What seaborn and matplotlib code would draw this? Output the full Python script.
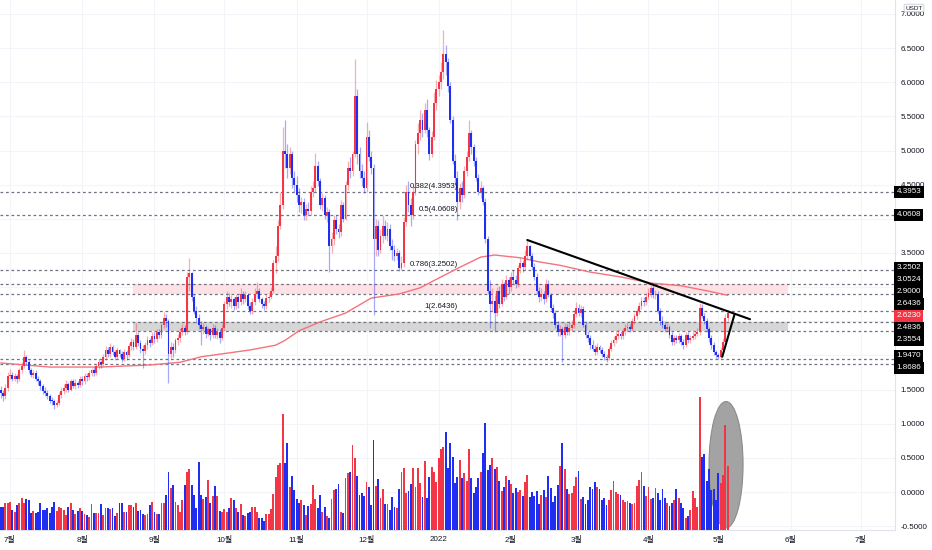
import matplotlib
matplotlib.use('Agg')
import matplotlib.pyplot as plt
import matplotlib.dates as mdates
import matplotlib.transforms as mtransforms
from matplotlib.patches import Ellipse
import numpy as np
import pandas as pd
import seaborn as sns

UP = '#f23645'
DOWN = '#1f2ef0'
TXT = '#131722'

# daily candles from 2021-06-27, open = previous close
first_open = 1.50
close_jun = [1.45, 1.40, 1.52, 1.70]
high_jun = [1.55, 1.50, 1.58, 1.76]
low_jun = [1.38, 1.33, 1.36, 1.48]

close_jul = [1.72, 1.66, 1.70, 1.65, 1.78, 1.85, 1.98, 1.90, 1.78, 1.72, 1.74, 1.66, 1.62, 1.55, 1.48, 1.45,
             1.40, 1.34, 1.33, 1.27, 1.30, 1.42, 1.48, 1.52, 1.58, 1.50, 1.62, 1.55, 1.60, 1.56, 1.66]
high_jul = [1.80, 1.76, 1.74, 1.73, 1.82, 1.90, 2.08, 2.00, 1.94, 1.82, 1.79, 1.78, 1.70, 1.66, 1.58, 1.54,
            1.50, 1.44, 1.39, 1.36, 1.35, 1.46, 1.54, 1.58, 1.64, 1.61, 1.66, 1.66, 1.65, 1.63, 1.70]
low_jul = [1.66, 1.62, 1.63, 1.60, 1.62, 1.74, 1.82, 1.86, 1.74, 1.68, 1.67, 1.62, 1.57, 1.50, 1.44, 1.40,
           1.36, 1.30, 1.28, 1.22, 1.24, 1.28, 1.38, 1.44, 1.47, 1.46, 1.48, 1.52, 1.51, 1.52, 1.54]

close_aug = [1.62, 1.70, 1.68, 1.74, 1.78, 1.75, 1.84, 1.90, 1.87, 1.98, 2.08, 2.02, 2.12, 2.05, 1.98, 2.08,
             2.02, 1.95, 2.05, 2.00, 2.14, 2.20, 2.12, 2.30, 2.18, 2.10, 2.06, 2.15, 2.22, 2.18, 2.28]
high_aug = [1.70, 1.74, 1.75, 1.78, 1.82, 1.83, 1.88, 1.95, 1.93, 2.02, 2.14, 2.12, 2.18, 2.16, 2.08, 2.12,
            2.10, 2.06, 2.10, 2.08, 2.18, 2.26, 2.24, 2.48, 2.34, 2.22, 2.16, 2.20, 2.28, 2.26, 2.34]
low_aug = [1.56, 1.58, 1.63, 1.64, 1.70, 1.70, 1.72, 1.80, 1.82, 1.84, 1.94, 1.98, 1.98, 2.00, 1.94, 1.95,
           1.98, 1.90, 1.92, 1.94, 1.97, 2.08, 2.08, 2.10, 2.14, 2.04, 1.82, 2.02, 2.10, 2.12, 2.15]

close_sep = [2.24, 2.35, 2.30, 2.45, 2.55, 2.50, 2.02, 2.12, 2.08, 2.22, 2.25, 2.35, 2.40, 2.35, 3.15, 3.20,
             2.85, 2.65, 2.55, 2.45, 2.38, 2.42, 2.32, 2.38, 2.30, 2.40, 2.30, 2.35, 2.25, 2.40]
high_sep = [2.34, 2.38, 2.38, 2.48, 2.63, 2.60, 2.54, 2.20, 2.18, 2.26, 2.32, 2.40, 2.46, 2.44, 3.22, 3.43,
            3.22, 2.90, 2.72, 2.60, 2.50, 2.48, 2.45, 2.42, 2.40, 2.46, 2.44, 2.40, 2.38, 2.46]
low_sep = [2.18, 2.20, 2.26, 2.26, 2.40, 2.42, 1.60, 1.96, 1.98, 2.04, 2.16, 2.20, 2.30, 2.30, 2.32, 2.95,
           2.80, 2.60, 2.48, 2.38, 2.15, 2.32, 2.26, 2.28, 2.22, 2.26, 2.26, 2.24, 2.18, 2.22]

close_oct = [2.75, 2.85, 2.78, 2.82, 2.72, 2.85, 2.78, 2.90, 2.82, 2.88, 2.72, 2.65, 2.78, 2.90, 2.94, 2.82,
             2.76, 2.72, 2.84, 2.86, 2.95, 3.35, 3.45, 3.90, 4.20, 5.00, 4.95, 4.75, 4.95, 4.60, 4.50]
high_oct = [2.80, 2.95, 2.92, 2.88, 2.86, 2.90, 2.88, 2.98, 2.94, 2.95, 2.92, 2.78, 2.84, 2.98, 3.08, 2.98,
            2.86, 2.80, 2.90, 2.92, 3.00, 3.40, 3.60, 3.98, 4.40, 5.35, 5.45, 5.10, 5.05, 5.00, 4.70]
low_oct = [2.36, 2.68, 2.72, 2.70, 2.66, 2.68, 2.70, 2.74, 2.76, 2.78, 2.68, 2.60, 2.60, 2.74, 2.84, 2.78,
           2.70, 2.66, 2.68, 2.78, 2.82, 2.92, 3.20, 3.38, 3.85, 4.15, 4.75, 4.60, 4.65, 4.45, 4.40]

close_nov = [4.35, 4.20, 4.25, 4.05, 4.15, 4.12, 4.40, 4.45, 4.78, 4.55, 4.20, 4.30, 4.05, 4.10, 3.60, 3.70,
             3.98, 3.85, 3.80, 4.20, 4.00, 4.50, 4.75, 4.70, 4.95, 5.80, 4.95, 4.70, 4.60, 4.45]
high_nov = [4.62, 4.45, 4.32, 4.30, 4.22, 4.25, 4.48, 4.55, 4.96, 4.85, 4.60, 4.38, 4.35, 4.18, 4.15, 3.80,
            4.05, 4.05, 3.92, 4.28, 4.25, 4.55, 4.85, 4.90, 5.00, 6.34, 5.90, 5.05, 4.80, 4.70]
low_nov = [4.25, 4.10, 4.08, 3.98, 3.98, 4.05, 4.05, 4.32, 4.40, 4.48, 4.15, 4.12, 4.00, 3.95, 3.22, 3.50,
           3.62, 3.78, 3.72, 3.75, 3.95, 3.98, 4.42, 4.60, 4.62, 4.90, 4.80, 4.60, 4.48, 4.38]

close_dec = [5.20, 4.90, 4.75, 3.70, 3.90, 3.55, 3.75, 3.90, 3.75, 3.85, 3.60, 3.55, 3.45, 3.50, 3.28, 3.35,
             3.95, 4.40, 4.20, 4.05, 4.40, 5.10, 5.25, 5.45, 5.30, 5.60, 5.30, 4.95, 5.20, 5.70, 5.90]
high_dec = [5.42, 5.30, 5.00, 4.80, 4.00, 3.98, 3.85, 4.05, 3.98, 3.95, 3.92, 3.70, 3.62, 3.58, 3.55, 3.45,
            4.02, 4.50, 4.55, 4.30, 4.48, 5.15, 5.40, 5.60, 5.55, 5.70, 5.75, 5.35, 5.28, 5.85, 6.03]
low_dec = [4.40, 4.85, 4.65, 2.59, 3.45, 3.45, 3.50, 3.65, 3.70, 3.68, 3.55, 3.40, 3.38, 3.40, 3.24, 3.25,
           3.30, 3.90, 4.10, 3.90, 4.00, 4.35, 4.95, 5.15, 5.20, 5.25, 5.20, 4.86, 4.90, 5.15, 5.60]

close_jan = [6.00, 6.15, 6.42, 6.30, 5.95, 5.45, 4.85, 4.60, 4.25, 4.45, 4.35, 4.70, 4.90, 5.25, 5.05, 4.85,
             4.60, 4.40, 4.45, 4.25, 3.70, 2.95, 2.75, 2.80, 2.62, 2.95, 2.75, 3.05, 2.85, 3.10, 3.00]
high_jan = [6.10, 6.30, 6.76, 6.55, 6.35, 6.00, 5.50, 4.95, 4.70, 4.52, 4.55, 4.78, 5.00, 5.45, 5.30, 5.10,
            4.90, 4.65, 4.55, 4.48, 4.30, 3.75, 3.10, 2.98, 2.88, 3.00, 3.02, 3.12, 3.08, 3.18, 3.15]
low_jan = [5.80, 5.90, 6.05, 6.10, 5.85, 5.40, 4.80, 4.50, 3.98, 4.15, 4.25, 4.30, 4.62, 4.85, 4.95, 4.78,
           4.55, 4.35, 4.30, 4.20, 3.65, 2.90, 2.40, 2.65, 2.34, 2.58, 2.70, 2.72, 2.80, 2.82, 2.90]

close_feb = [3.15, 3.10, 3.05, 3.28, 3.35, 3.30, 3.45, 3.60, 3.45, 3.30, 3.15, 2.95, 2.85, 2.90, 2.82, 3.05,
             2.88, 2.70, 2.62, 2.45, 2.35, 2.38, 2.30, 2.42, 2.35, 2.40, 2.45, 2.60]
high_feb = [3.22, 3.25, 3.18, 3.32, 3.42, 3.40, 3.55, 3.69, 3.62, 3.50, 3.35, 3.20, 3.00, 2.98, 2.95, 3.12,
            3.10, 2.92, 2.76, 2.66, 2.50, 2.45, 2.42, 2.48, 2.46, 2.50, 2.52, 2.66]
low_feb = [2.95, 3.05, 2.98, 3.00, 3.20, 3.22, 3.25, 3.40, 3.40, 3.25, 3.10, 2.90, 2.78, 2.80, 2.76, 2.78,
           2.85, 2.66, 2.55, 2.40, 2.28, 2.28, 1.90, 2.26, 2.30, 2.30, 2.36, 2.40]

close_mar = [2.70, 2.62, 2.68, 2.45, 2.30, 2.25, 2.15, 2.10, 2.05, 2.12, 2.08, 2.02, 1.98, 1.96, 2.10, 2.18,
             2.22, 2.28, 2.32, 2.28, 2.36, 2.40, 2.42, 2.38, 2.50, 2.58, 2.65, 2.72, 2.80, 2.78, 2.86]
high_mar = [2.78, 2.76, 2.74, 2.72, 2.50, 2.36, 2.30, 2.22, 2.16, 2.18, 2.16, 2.12, 2.06, 2.02, 2.14, 2.22,
            2.28, 2.34, 2.38, 2.36, 2.40, 2.46, 2.48, 2.46, 2.55, 2.62, 2.70, 2.78, 2.86, 2.86, 2.92]
low_mar = [2.56, 2.58, 2.56, 2.42, 2.26, 2.20, 2.10, 2.06, 2.00, 2.02, 2.04, 1.98, 1.94, 1.90, 1.94, 2.06,
           2.14, 2.18, 2.24, 2.24, 2.24, 2.30, 2.36, 2.34, 2.36, 2.46, 2.54, 2.60, 2.68, 2.72, 2.74]

close_apr = [2.92, 2.98, 2.88, 2.90, 2.65, 2.50, 2.45, 2.38, 2.42, 2.30, 2.20, 2.25, 2.22, 2.28, 2.20, 2.15,
             2.30, 2.22, 2.25, 2.28, 2.32, 2.35, 2.70, 2.58, 2.50, 2.38, 2.25, 2.15, 2.05, 2.00]
high_apr = [2.98, 3.02, 3.06, 2.96, 2.94, 2.70, 2.58, 2.50, 2.48, 2.45, 2.34, 2.30, 2.30, 2.33, 2.32, 2.24,
            2.35, 2.34, 2.30, 2.34, 2.36, 2.40, 2.77, 2.75, 2.62, 2.55, 2.42, 2.30, 2.20, 2.08]
low_apr = [2.82, 2.86, 2.84, 2.82, 2.60, 2.45, 2.40, 2.34, 2.34, 2.26, 2.16, 2.16, 2.18, 2.18, 2.15, 2.10,
           2.12, 2.18, 2.18, 2.22, 2.24, 2.28, 2.30, 2.55, 2.46, 2.34, 2.20, 2.10, 2.00, 1.96]

close_may = [1.98, 2.08, 2.20, 2.55, 2.623]
high_may = [2.04, 2.12, 2.26, 2.60, 2.66]
low_may = [1.95, 1.96, 2.04, 2.16, 2.50]

vol_jun = [23, 23, 27, 27]
vol_jul = [28, 20, 18, 25, 27, 32, 27, 31, 30, 17, 19, 17, 18, 27, 20, 20, 22, 17, 23, 28, 19, 23, 22, 20,
           15, 23, 27, 20, 16, 19, 22]
vol_aug = [19, 16, 15, 13, 26, 17, 17, 17, 26, 15, 22, 22, 21, 22, 14, 17, 27, 27, 18, 18, 25, 25, 23, 27,
           19, 20, 16, 15, 16, 25, 28]
vol_sep = [18, 16, 16, 27, 27, 35, 58, 42, 45, 28, 25, 18, 30, 45, 58, 61, 45, 35, 22, 68, 35, 31, 33, 50,
           27, 34, 44, 34, 19, 18]
vol_oct = [21, 18, 22, 32, 30, 22, 18, 26, 15, 14, 17, 18, 23, 23, 18, 12, 12, 9, 16, 16, 21, 36, 53, 65,
           67, 116, 67, 87, 43, 54, 40]
vol_nov = [31, 27, 30, 25, 15, 24, 26, 45, 31, 22, 35, 18, 23, 14, 12, 31, 40, 41, 46, 18, 17, 52, 57, 58,
           85, 72, 54, 35, 37, 34]
vol_dec = [48, 43, 25, 90, 44, 51, 32, 41, 26, 26, 20, 33, 23, 22, 41, 58, 62, 37, 39, 46, 62, 43, 62, 47,
           33, 69, 32, 53, 63, 58, 48]
vol_jan = [72, 81, 83, 98, 62, 87, 73, 47, 53, 70, 52, 57, 49, 81, 52, 37, 43, 52, 58, 77, 107, 60, 65, 72,
           61, 63, 49, 39, 43, 54, 50]
vol_feb = [46, 37, 42, 38, 40, 34, 48, 55, 33, 38, 34, 39, 26, 35, 40, 33, 54, 42, 28, 34, 45, 64, 87, 61,
           41, 36, 37, 44]
vol_mar = [53, 59, 31, 33, 26, 30, 43, 41, 48, 43, 41, 30, 32, 25, 30, 40, 49, 38, 36, 35, 30, 28, 29, 27,
           26, 27, 44, 50, 58, 44, 34]
vol_apr = [43, 31, 32, 42, 37, 30, 41, 32, 27, 24, 27, 30, 41, 32, 27, 22, 12, 14, 20, 39, 32, 23, 133, 73,
           76, 49, 61, 40, 41, 30]
vol_may = [57, 47, 55, 105, 64]

# 200-day moving average read at sample dates
ma_dates = ['2021-06-27', '2021-07-18', '2021-08-09', '2021-08-30', '2021-09-12', '2021-09-21',
            '2021-10-12', '2021-10-23', '2021-10-27', '2021-11-02', '2021-11-11', '2021-11-22',
            '2021-12-03', '2021-12-15', '2021-12-24', '2022-01-02', '2022-01-10', '2022-01-19',
            '2022-01-25', '2022-02-05', '2022-02-13', '2022-02-22', '2022-03-07', '2022-03-20',
            '2022-04-02', '2022-04-15', '2022-04-27', '2022-05-05']
ma_values = [1.89, 1.83, 1.83, 1.86, 1.90, 1.98, 2.08, 2.15, 2.22, 2.36, 2.49, 2.62, 2.84, 2.90, 2.99,
             3.15, 3.29, 3.44, 3.47, 3.43, 3.37, 3.32, 3.22, 3.15, 3.06, 3.02, 2.94, 2.88]

levels = [4.3953, 4.0608, 3.2502, 3.0524, 2.9000, 2.6436, 2.4836, 2.3554, 1.9470, 1.8686]
fib_ratios = ['0.382', '0.5', '0.786', '1']
fib_values = [4.3953, 4.0608, 3.2502, 2.6436]
last_price = 2.6230

price_ticks = [-0.5, 0.0, 0.5, 1.0, 1.5, 2.0, 2.5, 3.0, 3.5, 4.0, 4.5, 5.0, 5.5, 6.0, 6.5, 7.0]
covered_ticks = [2.0, 2.5, 3.0, 4.0]

pink_zone = (2.9000, 3.0524)
grey_zone = (2.3554, 2.4836)
zone_dates = ['2021-08-23 00:00', '2022-05-31 00:00']

trend_dates = ['2022-02-08 00:00', '2022-05-14 14:00']
trend_prices = [3.69, 2.53]
wedge_dates = ['2022-05-02 16:00', '2022-05-07 22:00']
wedge_prices = [1.98, 2.60]

month_ticks = pd.date_range('2021-07-01', '2022-07-01', freq='MS')
month_labels = ['7월', '8월', '9월', '10월', '11월', '12월', '2022', '2월', '3월', '4월', '5월', '6월', '7월']

closes = (close_jun + close_jul + close_aug + close_sep + close_oct + close_nov + close_dec +
          close_jan + close_feb + close_mar + close_apr + close_may)
highs = (high_jun + high_jul + high_aug + high_sep + high_oct + high_nov + high_dec +
         high_jan + high_feb + high_mar + high_apr + high_may)
lows = (low_jun + low_jul + low_aug + low_sep + low_oct + low_nov + low_dec +
        low_jan + low_feb + low_mar + low_apr + low_may)
volumes = (vol_jun + vol_jul + vol_aug + vol_sep + vol_oct + vol_nov + vol_dec +
           vol_jan + vol_feb + vol_mar + vol_apr + vol_may)

df = pd.DataFrame({
    'date': pd.date_range('2021-06-27', periods=len(closes), freq='D'),
    'open': [first_open] + closes[:-1],
    'high': highs,
    'low': lows,
    'close': closes,
    'volume': volumes,
})
df['high'] = df[['high', 'open', 'close']].max(axis=1)
df['low'] = df[['low', 'open', 'close']].min(axis=1)
df['color'] = np.where(df['close'] >= df['open'], UP, DOWN)

sns.set_theme(style='white')
plt.rcParams['font.family'] = ['Liberation Sans', 'Noto Sans CJK KR', 'DejaVu Sans']

fig = plt.figure(figsize=(9.32, 5.5), dpi=100)
ax = fig.add_axes([0, 20 / 550, 895 / 932, 530 / 550])

xnum = mdates.date2num(df['date'])

# zones and levels
zx = mdates.date2num(pd.to_datetime(zone_dates))
ax.fill_between(zx, pink_zone[0], pink_zone[1], color='#fde1e4', lw=0, zorder=1)
ax.fill_between(zx, grey_zone[0], grey_zone[1], color='#d6d6d6', lw=0, zorder=1)
for lv in levels:
    ax.axhline(lv, color='#6f7380', lw=0.9, ls=(0, (2.2, 2.2)), zorder=1.5)

# moving average
sns.lineplot(x=pd.to_datetime(ma_dates), y=ma_values, ax=ax, color='#f5737c', lw=1.0, zorder=2)

# candles
ax.vlines(xnum, df['low'], df['high'], colors=df['color'], lw=0.9, alpha=0.4, zorder=3)
body_bottom = df[['open', 'close']].min(axis=1)
body_height = (df['close'] - df['open']).abs().clip(lower=0.012)
ax.bar(xnum, body_height, bottom=body_bottom, width=0.8, color=df['color'], lw=0, zorder=4)

# trend lines
ax.plot(mdates.date2num(pd.to_datetime(trend_dates)), trend_prices, color='black', lw=1.5, zorder=5)
ax.plot(mdates.date2num(pd.to_datetime(wedge_dates)), wedge_prices, color='black', lw=1.5, zorder=5)

# volume highlight
ell = Ellipse((mdates.date2num(pd.Timestamp('2022-05-04 07:00')), 0.40), width=14.6, height=1.85,
              facecolor='#a3a3a3', edgecolor='#8c8c8c', lw=0.8, zorder=2)
ax.add_patch(ell)

# fib labels
fib_x = mdates.date2num(pd.Timestamp('2022-01-09 07:00'))
for r, v in zip(fib_ratios, fib_values):
    ax.text(fib_x, v + 0.025, f'{r}({v:.4f})', ha='right', va='bottom', fontsize=5.6, color=TXT, zorder=6)

ax.set_xlim(mdates.date2num(pd.Timestamp('2021-07-01') - pd.Timedelta(days=4.29)),
            mdates.date2num(pd.Timestamp('2021-07-01') + pd.Timedelta(days=379.8)))
ax.set_ylim(-0.556, 7.204)

ax.set_xticks(mdates.date2num(month_ticks))
ax.set_xticklabels(month_labels)
ax.set_yticks(price_ticks)
ax.set_yticklabels(['' if t in covered_ticks else f'{t:.4f}' for t in price_ticks])
ax.grid(True, color='#f2f4f9', lw=0.8)
ax.set_axisbelow(True)
ax.set_xlabel('')
ax.set_ylabel('')
for side in ['top', 'left']:
    ax.spines[side].set_visible(False)
for side in ['right', 'bottom']:
    ax.spines[side].set_color('#e0e3eb')
    ax.spines[side].set_linewidth(0.8)

# volume on its own scale
axv = ax.twinx()
axv.bar(xnum, df['volume'], width=0.8, color=df['color'], lw=0)
axv.set_ylim(0, 530)
axv.set_axis_off()

# twinx moves the price ticks to the left, put them back on the right
ax.yaxis.tick_right()
ax.tick_params(axis='both', length=0, labelsize=5.8, colors=TXT)
ax.tick_params(axis='y', pad=4, labelleft=False, labelright=True)
ax.tick_params(axis='x', pad=4)

# price labels on the scale, spread so they do not overlap
box_h = 12 / 68.3
cluster = sorted(levels + [last_price], reverse=True)
pos = list(cluster)
for _ in range(300):
    for i in range(len(pos) - 1):
        gap = pos[i] - pos[i + 1]
        if gap < box_h:
            d = (box_h - gap) / 2
            pos[i] += d
            pos[i + 1] -= d
trans = mtransforms.blended_transform_factory(ax.transAxes, ax.transData)
for lv, p in zip(cluster, pos):
    fc = UP if lv == last_price else 'black'
    axv.text(1.0015, p, f'{lv:.4f}', transform=trans, ha='left', va='center', fontsize=5.8,
             color='white', clip_on=False, zorder=20,
             bbox=dict(boxstyle='square,pad=0.3', fc=fc, ec='none'))

fig.text(914 / 932, 1 - 8 / 550, 'USDT', ha='center', va='center', fontsize=4.6, color=TXT,
         bbox=dict(boxstyle='round,pad=0.2', fc='white', ec='#c8cbd3', lw=0.6))

fig.savefig('out.png', dpi=100)
